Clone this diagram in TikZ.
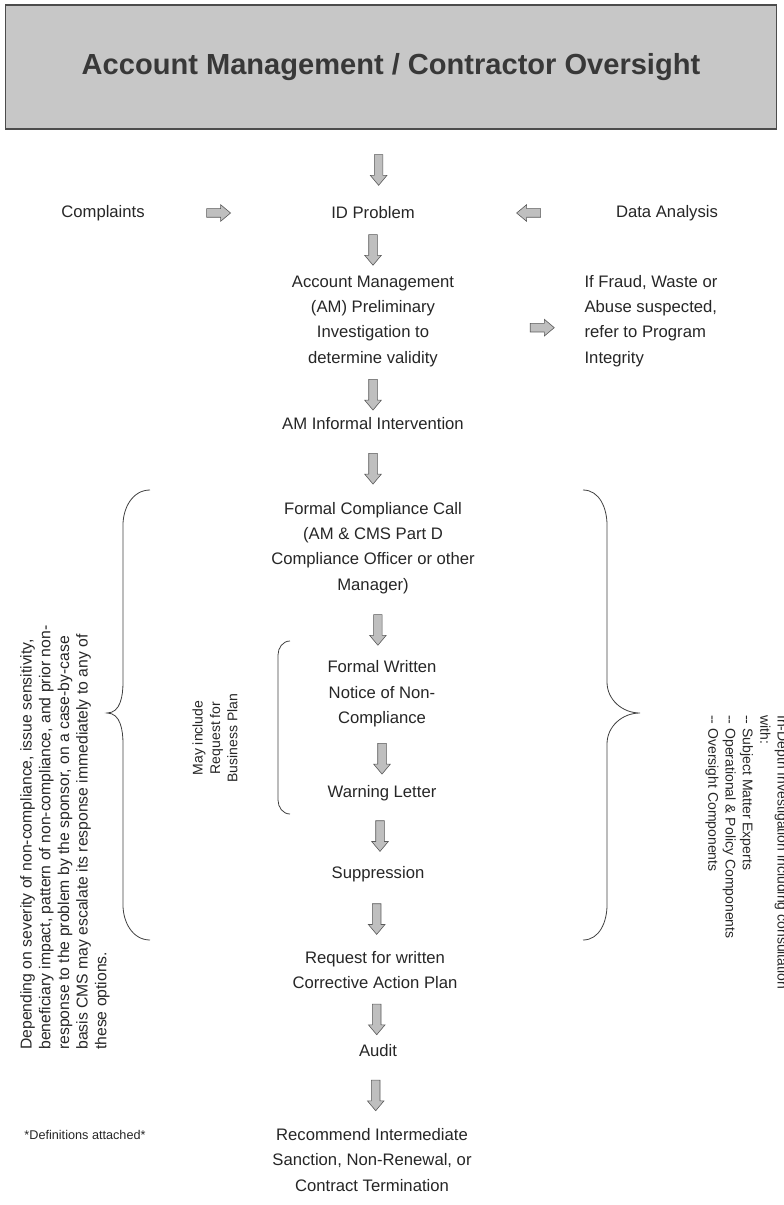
\documentclass[tikz,border=0pt]{standalone}
\usepackage{fontspec}
\setmainfont{Liberation Sans}
\usetikzlibrary{shapes.arrows}
\begin{document}
\begin{tikzpicture}[x=0.75pt,y=-0.75pt]
\tikzset{
  txt/.style={font=\fontsize{12.5}{19}\selectfont, align=center, inner sep=1pt, text=black!85},
  side/.style={font=\fontsize{12.5}{19}\selectfont, align=left, inner sep=1pt, text=black!85},
  rot/.style={font=\fontsize{11.8}{14}\selectfont, align=left, inner sep=0pt, text=black!85},
  arrbase/.style={single arrow, draw=black!65, fill=black!25, line width=0.45pt,
    inner sep=3pt, single arrow head extend=3pt,
    single arrow tip angle=80, text height=0pt, text depth=0pt, text width=0pt},
  varr/.style={arrbase, shape border rotate=270, minimum height=23pt},
  rarr/.style={arrbase, minimum height=18pt},
  larr/.style={arrbase, shape border rotate=180, minimum height=18pt},
  brace/.style={draw=black!75, line width=0.6pt}
}
\useasboundingbox (0,0) rectangle (783,1205);
% title
\node[draw=black!70, fill=black!22, line width=0.8pt, minimum width=578pt, minimum height=93pt,
      font=\bfseries\fontsize{21.8}{26}\selectfont, text=black!78] (title) at (391,67)
      {Account Management / Contractor Oversight};
% main column
\node[txt] (id) at (373,213) {ID Problem};
\node[txt] (compl) at (103,213) {Complaints};
\node[txt] (data) at (667,213) {Data Analysis};
\node[txt] (prelim) at (373,321) {Account Management\\(AM) Preliminary\\Investigation to\\determine validity};
\node[side, anchor=west] (fraud) at (583,321) {If Fraud, Waste or\\Abuse suspected,\\refer to Program\\Integrity};
\node[txt] (inf) at (373,424) {AM Informal Intervention};
\node[txt] (call) at (373,548) {Formal Compliance Call\\(AM \& CMS Part D\\Compliance Officer or other\\Manager)};
\node[txt] (notice) at (382,694) {Formal Written\\Notice of Non-\\Compliance};
\node[txt] (warn) at (382,793) {Warning Letter};
\node[txt] (supp) at (378,874) {Suppression};
\node[txt] (cap) at (375,970) {Request for written\\Corrective Action Plan};
\node[txt] (audit) at (378,1051) {Audit};
\node[txt] (rec) at (372,1160) {Recommend Intermediate\\Sanction, Non-Renewal, or\\Contract Termination};
\node[font=\fontsize{9.5}{12}\selectfont, text=black!85, inner sep=0pt] (defs) at (85,1135) {*Definitions attached*};
% arrows
\path (title) -- node[varr]{} (id);
\path (id) -- node[varr]{} (prelim);
\path (prelim) -- node[varr]{} (inf);
\path (inf) -- node[varr]{} (call);
\path (call) -- node[varr]{} (notice);
\path (notice) -- node[varr]{} (warn);
\path (warn) -- node[varr]{} (supp);
\path (supp) -- node[varr]{} (cap);
\path (cap) -- node[varr]{} (audit);
\path (audit) -- node[varr]{} (rec);
\path (compl) -- node[rarr, pos=0.38]{} (id);
\path (id) -- node[larr, pos=0.58]{} (data);
\path (prelim) -- node[rarr, pos=0.66, yshift=-5pt]{} (fraud);
% braces
\draw[brace] (150,490) to[out=180,in=90] (123,525) -- (123,682)
  to[out=-90,in=0] (107,713) to[out=0,in=90] (123,744) -- (123,905)
  to[out=-90,in=180] (150,940);
\draw[brace] (583,490) to[out=0,in=90] (607,525) -- (607,682)
  to[out=-90,in=180] (640,713) to[out=180,in=90] (607,744) -- (607,905)
  to[out=-90,in=0] (583,940);
\draw[brace] (290,641) to[out=180,in=90] (278,655) -- (278,800) to[out=-90,in=180] (290,814);
% rotated notes
\node[rot, rotate=90, anchor=north west] (dep) at (20,1050)
  {Depending on severity of non-compliance, issue sensitivity,\\
   beneficiary impact, pattern of non-compliance, and prior non-\\
   response to the problem by the sponsor, on a case-by-case\\
   basis CMS may escalate its response immediately to any of\\
   these options.};
\node[rot, rotate=90, align=center, font=\fontsize{10.5}{13}\selectfont] (may) at (215,738)
  {May include\\Request for\\Business Plan};
\node[rot, rotate=-90, anchor=north west, font=\fontsize{10.5}{13}\selectfont] (depth) at (788,715)
  {In-Depth Investigation including consultation\\
   with:\\
   -{}- Subject Matter Experts\\
   -{}- Operational \& Policy Components\\
   -{}- Oversight Components};
\end{tikzpicture}
\end{document}
